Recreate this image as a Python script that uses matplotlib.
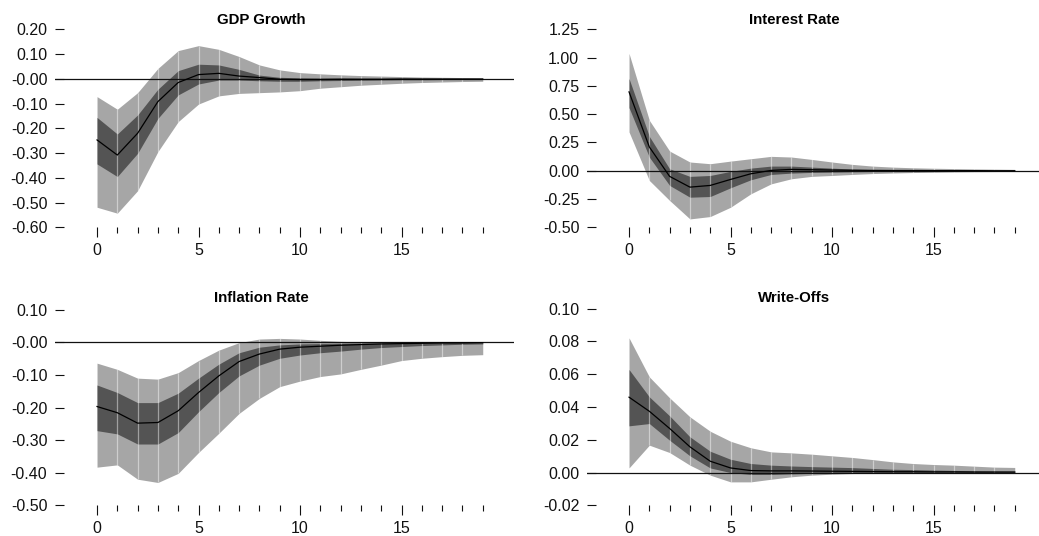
import matplotlib
matplotlib.use("Agg")
import matplotlib.pyplot as plt
import numpy as np

plt.rcParams['font.family'] = ['Liberation Sans', 'DejaVu Sans']

horizon = list(range(20))

# GDP Growth
gdp_mean = [-0.247, -0.308, -0.220, -0.092, -0.015, 0.017, 0.022, 0.011, 0.005, -0.002,
            -0.003, -0.003, -0.002, -0.002, -0.002, -0.001, -0.001, -0.001, -0.001, -0.001]
gdp_in_hi = [-0.156, -0.223, -0.146, -0.042, 0.033, 0.059, 0.056, 0.038, 0.015, 0.006,
             0.004, 0.003, 0.003, 0.002, 0.002, 0.002, 0.001, 0.001, 0.001, 0.001]
gdp_in_lo = [-0.344, -0.395, -0.301, -0.160, -0.065, -0.021, -0.005, -0.005, -0.008, -0.010,
             -0.010, -0.008, -0.007, -0.006, -0.005, -0.004, -0.004, -0.003, -0.003, -0.003]
gdp_out_hi = [-0.072, -0.123, -0.056, 0.042, 0.114, 0.134, 0.119, 0.090, 0.056, 0.036,
              0.025, 0.020, 0.016, 0.013, 0.011, 0.009, 0.007, 0.006, 0.005, 0.004]
gdp_out_lo = [-0.519, -0.543, -0.452, -0.294, -0.173, -0.102, -0.069, -0.059, -0.056, -0.053,
              -0.048, -0.038, -0.032, -0.026, -0.022, -0.018, -0.015, -0.013, -0.011, -0.010]

# Interest Rate
ir_mean = [0.697, 0.210, -0.050, -0.145, -0.130, -0.077, -0.027, 0.003, 0.012, 0.009,
           0.006, 0.004, 0.003, 0.002, 0.002, 0.001, 0.001, 0.001, 0.000, 0.000]
ir_in_hi = [0.815, 0.304, 0.017, -0.050, -0.042, -0.006, 0.023, 0.041, 0.041, 0.032,
            0.023, 0.015, 0.010, 0.007, 0.005, 0.004, 0.003, 0.003, 0.002, 0.002]
ir_in_lo = [0.558, 0.120, -0.130, -0.234, -0.228, -0.151, -0.080, -0.033, -0.021, -0.015,
            -0.012, -0.009, -0.007, -0.005, -0.004, -0.003, -0.003, -0.002, -0.002, -0.002]
ir_out_hi = [1.037, 0.446, 0.174, 0.077, 0.062, 0.085, 0.106, 0.127, 0.121, 0.100,
             0.077, 0.056, 0.041, 0.032, 0.026, 0.022, 0.019, 0.016, 0.014, 0.012]
ir_out_lo = [0.343, -0.086, -0.263, -0.426, -0.405, -0.323, -0.204, -0.116, -0.071, -0.050,
             -0.042, -0.033, -0.025, -0.020, -0.016, -0.013, -0.010, -0.008, -0.007, -0.006]

# Inflation Rate
inf_mean = [-0.197, -0.216, -0.248, -0.246, -0.210, -0.154, -0.103, -0.059, -0.036, -0.021,
            -0.015, -0.012, -0.009, -0.007, -0.005, -0.004, -0.003, -0.002, -0.002, -0.001]
inf_in_hi = [-0.131, -0.154, -0.185, -0.185, -0.156, -0.110, -0.067, -0.032, -0.015, -0.008,
             -0.005, -0.004, -0.003, -0.002, -0.002, -0.001, -0.001, -0.001, -0.001, -0.001]
inf_in_lo = [-0.271, -0.281, -0.312, -0.312, -0.277, -0.213, -0.154, -0.103, -0.070, -0.049,
             -0.039, -0.032, -0.027, -0.021, -0.016, -0.013, -0.010, -0.008, -0.006, -0.005]
inf_out_hi = [-0.064, -0.083, -0.110, -0.113, -0.093, -0.056, -0.024, -0.001, 0.010, 0.012,
              0.010, 0.006, 0.003, 0.001, 0.000, 0.000, -0.001, -0.001, -0.001, -0.001]
inf_out_lo = [-0.383, -0.376, -0.420, -0.430, -0.402, -0.338, -0.279, -0.218, -0.172, -0.136,
              -0.119, -0.105, -0.097, -0.083, -0.070, -0.056, -0.049, -0.044, -0.040, -0.038]

# Write-Offs
wo_mean = [0.0460, 0.0374, 0.0269, 0.0157, 0.0069, 0.0028, 0.0012, 0.0010, 0.0010, 0.0009,
           0.0008, 0.0007, 0.0006, 0.0005, 0.0005, 0.0004, 0.0004, 0.0003, 0.0003, 0.0003]
wo_in_hi = [0.0629, 0.0462, 0.0346, 0.0218, 0.0130, 0.0081, 0.0055, 0.0045, 0.0040, 0.0036,
            0.0033, 0.0030, 0.0025, 0.0020, 0.0018, 0.0015, 0.0013, 0.0011, 0.0009, 0.0008]
wo_in_lo = [0.0285, 0.0299, 0.0197, 0.0102, 0.0028, 0.0000, -0.0012, -0.0012, -0.0008, -0.0005,
            -0.0003, -0.0002, -0.0001, -0.0001, 0.0000, 0.0000, 0.0000, 0.0000, 0.0000, 0.0000]
wo_out_hi = [0.0822, 0.0584, 0.0456, 0.0340, 0.0252, 0.0191, 0.0151, 0.0126, 0.0120, 0.0112,
             0.0102, 0.0092, 0.0079, 0.0065, 0.0055, 0.0049, 0.0045, 0.0039, 0.0033, 0.0031]
wo_out_lo = [0.0028, 0.0167, 0.0122, 0.0045, -0.0016, -0.0057, -0.0057, -0.0041, -0.0026, -0.0016,
             -0.0010, -0.0006, -0.0004, -0.0003, -0.0002, -0.0002, -0.0001, -0.0001, -0.0001, -0.0001]

titles = ["GDP Growth", "Interest Rate", "Inflation Rate", "Write-Offs"]
ytick_vals = [
    [0.20, 0.10, 0.00, -0.10, -0.20, -0.30, -0.40, -0.50, -0.60],
    [1.25, 1.00, 0.75, 0.50, 0.25, 0.00, -0.25, -0.50],
    [0.10, 0.00, -0.10, -0.20, -0.30, -0.40, -0.50],
    [0.10, 0.08, 0.06, 0.04, 0.02, 0.00, -0.02],
]
ytick_labels = [
    ["0.20", "0.10", "-0.00", "-0.10", "-0.20", "-0.30", "-0.40", "-0.50", "-0.60"],
    ["1.25", "1.00", "0.75", "0.50", "0.25", "0.00", "-0.25", "-0.50"],
    ["0.10", "-0.00", "-0.10", "-0.20", "-0.30", "-0.40", "-0.50"],
    ["0.10", "0.08", "0.06", "0.04", "0.02", "0.00", "-0.02"],
]
xtick_major = [0, 5, 10, 15]

series = [
    (gdp_mean, gdp_in_lo, gdp_in_hi, gdp_out_lo, gdp_out_hi),
    (ir_mean, ir_in_lo, ir_in_hi, ir_out_lo, ir_out_hi),
    (inf_mean, inf_in_lo, inf_in_hi, inf_out_lo, inf_out_hi),
    (wo_mean, wo_in_lo, wo_in_hi, wo_out_lo, wo_out_hi),
]

W, H = 1039, 536
fig = plt.figure(figsize=(W / 100, H / 100), dpi=100)

# pixel boxes: left, right, top, bottom
boxes = [(55, 514, 29.3, 227.3), (587, 1046, 29.3, 227.3),
         (55, 514, 309.7, 505.3), (587, 1046, 308.7, 505.3)]
title_pos = [(261, 19.5), (794, 19.5), (261, 297.5), (794, 297.5)]

light = "#a6a6a6"
dark = "#545454"

for i, (box, ser) in enumerate(zip(boxes, series)):
    l, r, t, b = box
    ax = fig.add_axes([l / W, 1 - b / H, (r - l) / W, (b - t) / H])
    mean, ilo, ihi, olo, ohi = ser
    x = np.array(horizon)
    ax.fill_between(x, olo, ohi, color=light, lw=0, zorder=1)
    ax.fill_between(x, ilo, ihi, color=dark, lw=0, zorder=2)
    ax.vlines(x[1:-1], np.array(olo)[1:-1], np.array(ohi)[1:-1], color="white",
              alpha=0.45, lw=0.9, zorder=3)
    ax.axhline(0, color="#111111", lw=0.9, zorder=4)
    ax.plot(x, mean, color="black", lw=0.9, zorder=5)

    yv = ytick_vals[i]
    ax.set_ylim(min(yv), max(yv))
    ax.set_xlim(-2.07, 20.54)
    ax.set_yticks(yv)
    ax.set_yticklabels(ytick_labels[i])
    ax.set_xticks(xtick_major)
    ax.set_xticks([k for k in horizon if k not in xtick_major], minor=True)
    ax.tick_params(axis='y', direction='in', length=6.5, width=0.8, pad=5.5,
                   labelsize=11.5, colors="#111111")
    ax.tick_params(axis='x', which='major', direction='out', length=7, width=0.8,
                   pad=4.5, labelsize=11.5, colors="#111111")
    ax.tick_params(axis='x', which='minor', direction='out', length=4, width=0.8,
                   colors="#111111")
    for s in ax.spines.values():
        s.set_visible(False)
    ax.patch.set_alpha(0)

    tx, ty = title_pos[i]
    fig.text(tx / W, 1 - ty / H, titles[i], ha="center", va="center",
             fontsize=10.8, fontweight="bold")

fig.savefig("out.png", dpi=100)
